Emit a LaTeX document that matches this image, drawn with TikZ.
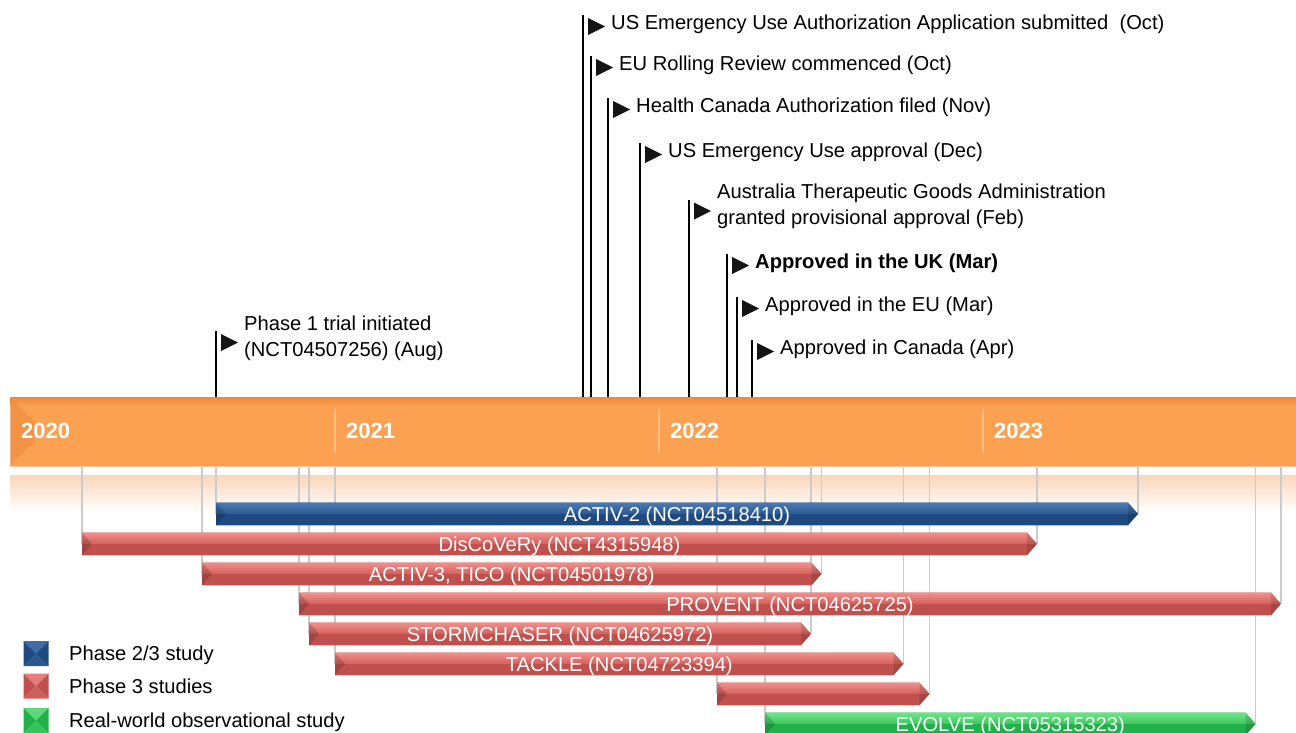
\documentclass[tikz,border=0pt]{standalone}
\usepackage{fontspec}
\setmainfont{Liberation Sans}
\usetikzlibrary{calc}

\pgfdeclarelayer{back}
\pgfdeclarelayer{guides}
\pgfsetlayers{back,guides,main}

% timeline band
\definecolor{bandmain}{HTML}{FBA151}
\definecolor{bandtop}{HTML}{EE893C}
\definecolor{bandedge}{HTML}{F0C8A4}
\definecolor{bandline}{HTML}{FDBE85}
\definecolor{fadetop}{HTML}{FCD6B8}
\definecolor{guidegray}{HTML}{CCCCCC}
% phase 2/3 (blue)
\definecolor{phAhi}{HTML}{4C79B2}
\definecolor{phAmid}{HTML}{2D5C96}
\definecolor{phAbot}{HTML}{1F4A7F}
% phase 3 (red)
\definecolor{phBhi}{HTML}{F0908C}
\definecolor{phBmid}{HTML}{D6635F}
\definecolor{phBbot}{HTML}{C0504D}
% real-world (green)
\definecolor{phChi}{HTML}{6EE489}
\definecolor{phCmid}{HTML}{3FCC60}
\definecolor{phCbot}{HTML}{22B04A}

\tikzset{
  guide/.style={draw=guidegray, line width=1.5pt},
  pole/.style={draw=black, line width=1.4pt},
  flag/.style={fill=black!92},
  eventtext/.style={anchor=west, inner sep=0pt, font=\fontsize{20.15}{26}\selectfont,
    text height=14.4pt, text depth=0pt},
  eventtexttwo/.style={anchor=west, inner sep=0pt, font=\fontsize{20.15}{26}\selectfont,
    align=left},
  barlabel/.style={text=white, inner sep=0pt, font=\fontsize{20.15}{24}\selectfont,
    text height=14.4pt, text depth=0pt},
  yearlabel/.style={anchor=west, inner sep=0pt, text=white,
    font=\fontsize{22}{26}\selectfont\bfseries, text height=15.8pt, text depth=0pt},
  legendtext/.style={anchor=west, inner sep=0pt, font=\fontsize{20.15}{24}\selectfont,
    text height=14.4pt, text depth=0pt},
}

% milestone: #1 name, #2 pole x, #3 text centre y, #4 text, #5 text style
\newcommand\milestone[5]{%
  \coordinate (#1-top) at (#2,#3-7);
  \draw[pole] (#1-top |- band.north) -- (#1-top);
  \fill[flag] (#2+5,#3-4) -- (#2+22,#3+4.5) -- (#2+5,#3+13) -- cycle;
  \node[#5] (#1) at (#2+28,#3) {#4};
}

% study bar: #1 name, #2 start x, #3 tip x, #4 centre y, #5 colour set, #6 label
\newcommand\trialbar[6]{%
  \coordinate (#1-s) at (#2,#4);
  \coordinate (#1-e) at (#3,#4);
  \begin{pgfonlayer}{guides}
    \draw[guide] (#1-s |- band.south) -- (#1-s);
    \draw[guide] (#1-e |- band.south) -- (#1-e);
  \end{pgfonlayer}
  \begin{scope}
    \clip (#2,#4-11.3) -- (#3-10,#4-11.3) -- (#3,#4) -- (#3-10,#4+11.3)
      -- (#2,#4+11.3) -- cycle;
    \fill[#5bot] (#2,#4-12) rectangle (#3,#4+12);
    \shade[top color=#5hi, bottom color=#5mid] (#2,#4-11.3) rectangle (#3,#4-1);
    \fill[black, opacity=.16] (#2,#4-11.3) -- (#2+10,#4) -- (#2,#4+11.3) -- cycle;
    \fill[black, opacity=.12] (#3-10,#4-11.3) -- (#3,#4) -- (#3-10,#4+11.3) -- cycle;
  \end{scope}
  \node[barlabel] (#1) at ($(#1-s)!.5!(#1-e)$) {#6};
}

% legend key: #1 name, #2 centre y, #3 colour set, #4 text
\newcommand\legendkey[4]{%
  \coordinate (#1-c) at (36,#2);
  \fill[#3hi!60!#3mid] (23.5,#2-12.5) -- (48.5,#2-12.5) -- (#1-c) -- cycle;
  \fill[#3bot] (23.5,#2-12.5) -- (#1-c) -- (23.5,#2+12.5) -- cycle;
  \fill[#3bot] (48.5,#2-12.5) -- (#1-c) -- (48.5,#2+12.5) -- cycle;
  \fill[#3mid!70!#3bot] (23.5,#2+12.5) -- (#1-c) -- (48.5,#2+12.5) -- cycle;
  \node[legendtext] (#1) at (69,#2) {#4};
}

\begin{document}
\begin{tikzpicture}[x=1pt, y=-1pt]
\useasboundingbox (0,0) rectangle (1296,733);

% timeline band with its soft shadow below
\begin{pgfonlayer}{back}
  \node[anchor=north west, fill=bandmain, draw=bandedge, line width=.6pt,
        minimum width=1288pt, minimum height=69pt, inner sep=0pt] (band) at (10,397) {};
  \shade[top color=bandtop, bottom color=bandmain] (10.3,397.3) rectangle (1296,405);
  \fill[bandtop, opacity=.55] (10.3,397.3) -- (34,421) -- (34,442) -- (10.3,465.7) -- cycle;
  \shade[top color=fadetop, bottom color=white] (10,475) rectangle (1296,512);
\end{pgfonlayer}

% years
\foreach \yx/\yr in {335/2021, 659/2022, 983/2023} {
  \coordinate (div\yr) at (\yx,409);
  \draw[bandline, line width=1.5pt] (div\yr) -- ++(0,44);
}
\node[yearlabel] (y2020) at (21,431) {2020};
\node[yearlabel] (y2021) at (346,431) {2021};
\node[yearlabel] (y2022) at (670,431) {2022};
\node[yearlabel] (y2023) at (994,431) {2023};

% regulatory milestones
\milestone{phaseone}{216}{338.1}{Phase 1 trial initiated\\(NCT04507256) (Aug)}{eventtexttwo}
\milestone{euasub}{583}{22}{US Emergency Use Authorization Application submitted~ (Oct)}{eventtext}
\milestone{eurolling}{591}{63}{EU Rolling Review commenced (Oct)}{eventtext}
\milestone{hcfiled}{608}{105}{Health Canada Authorization filed (Nov)}{eventtext}
\milestone{euaok}{640}{150}{US Emergency Use approval (Dec)}{eventtext}
\milestone{tga}{689}{206.6}{Australia Therapeutic Goods Administration\\granted provisional approval (Feb)}{eventtexttwo}
\milestone{ukok}{727}{261}{\bfseries Approved in the UK (Mar)}{eventtext}
\milestone{euok}{737}{304}{Approved in the EU (Mar)}{eventtext}
\milestone{caok}{752}{347}{Approved in Canada (Apr)}{eventtext}

% studies
\trialbar{activtwo}{216}{1138}{514}{phA}{ACTIV-2 (NCT04518410)}
\trialbar{discovery}{82}{1037}{544}{phB}{DisCoVeRy (NCT4315948)}
\trialbar{activthree}{202}{821.5}{574}{phB}{ACTIV-3, TICO (NCT04501978)}
\trialbar{provent}{299}{1281}{604}{phB}{PROVENT (NCT04625725)}
\trialbar{stormchaser}{309}{811}{634}{phB}{STORMCHASER (NCT04625972)}
\trialbar{tackle}{335}{903.5}{664}{phB}{TACKLE (NCT04723394)}
\trialbar{unnamed}{717}{929.5}{694}{phB}{}
\trialbar{evolve}{765}{1255.5}{724}{phC}{EVOLVE (NCT05315323)}

% legend
\legendkey{lgA}{653.5}{phA}{Phase 2/3 study}
\legendkey{lgB}{686}{phB}{Phase 3 studies}
\legendkey{lgC}{720.5}{phC}{Real-world observational study}

\end{tikzpicture}
\end{document}
